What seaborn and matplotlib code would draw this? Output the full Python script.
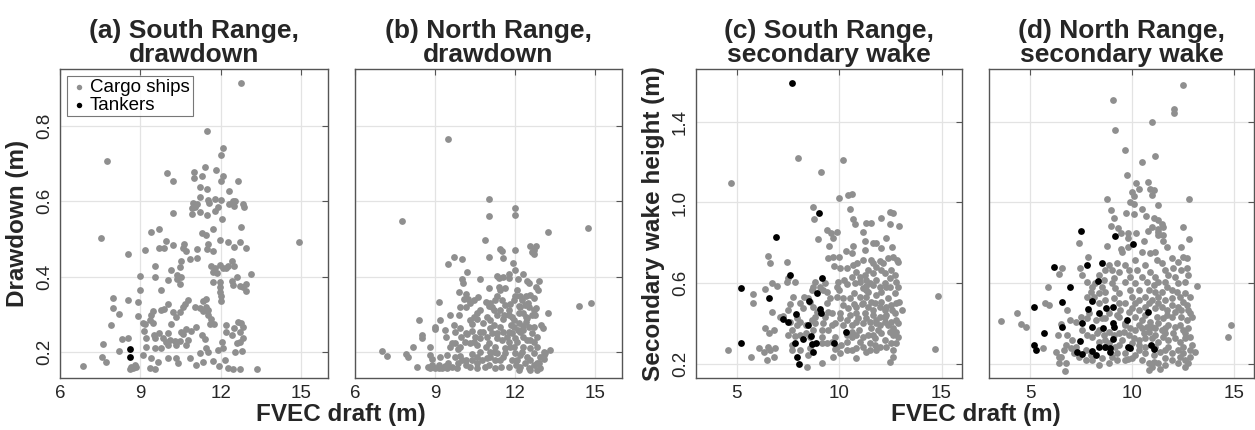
import matplotlib
matplotlib.use('Agg')
import matplotlib.pyplot as plt
import seaborn as sns
import pandas as pd

# ---------------- data (FVEC draft [m], height [m]) ----------------
a_cargo = [(12.74,0.916),(11.5,0.786),(7.74,0.707),(12.08,0.743),(12.0,0.723),(11.41,0.692),(11.83,0.684),(10.01,0.676),(11.01,0.679),(11.31,0.668),(11.01,0.662),(12.1,0.667),(12.0,0.653),(10.23,0.653),(12.64,0.655),(11.21,0.637),(11.49,0.633),(12.3,0.628),(11.21,0.611),(11.53,0.604),(11.78,0.607),(11.99,0.604),(11.56,0.596),(10.96,0.596),(11.11,0.592),(10.91,0.583),(11.05,0.585),(10.91,0.567),(11.23,0.572),(11.49,0.563),(11.78,0.573),(11.9,0.584),(12.05,0.552),(12.31,0.594),(12.44,0.601),(12.53,0.601),(12.51,0.588),(12.83,0.594),(12.85,0.585),(10.23,0.570),
(7.53,0.502),(9.4,0.518),(9.69,0.526),(8.53,0.46),(9.16,0.47),(9.95,0.495),(9.71,0.476),(9.88,0.476),(10.23,0.483),(10.64,0.487),(10.59,0.476),(10.71,0.469),(11.11,0.473),(11.28,0.516),(11.46,0.511),(11.71,0.527),(11.53,0.486),(11.5,0.472),(11.71,0.468),(11.96,0.498),(12.28,0.493),(12.5,0.479),(12.71,0.493),(12.74,0.531),(12.93,0.476),(14.9,0.493),(10.53,0.442),(10.84,0.446),(11.11,0.449),(10.13,0.416),(10.46,0.424),(10.35,0.404),(10.35,0.394),(10.53,0.4),(10.46,0.38),(10.04,0.391),(9.55,0.4),(9.55,0.429),(9.0,0.402),(9.0,0.364),(9.78,0.364),(11.65,0.429),(11.78,0.422),(11.96,0.431),(12.09,0.422),(12.21,0.422),(12.28,0.427),(12.5,0.429),(11.71,0.413),(11.84,0.409),(12.4,0.44),(11.96,0.385),(11.71,0.385),(11.96,0.373),(11.96,0.36),(12.0,0.347),(12.0,0.335),(12.4,0.388),(12.46,0.378),(12.59,0.4),(12.71,0.376),(12.93,0.38),(13.11,0.407),(12.84,0.371),(12.93,0.362),
(7.99,0.342),(7.99,0.316),(8.21,0.3),(7.9,0.271),(8.53,0.338),(8.9,0.331),(8.9,0.295),(9.09,0.276),(9.19,0.273),(9.15,0.255),(9.34,0.284),(9.4,0.298),(9.46,0.308),(9.78,0.311),(9.88,0.313),(10.03,0.327),(10.21,0.305),(10.34,0.293),(10.46,0.305),(10.59,0.318),(10.78,0.338),(10.66,0.326),(11.03,0.32),(11.21,0.316),(11.34,0.335),(11.44,0.34),(11.46,0.32),(11.53,0.311),(11.54,0.298),(11.59,0.273),(11.75,0.273),(11.65,0.286),(11.34,0.308),(10.13,0.273),(9.46,0.276),(9.5,0.244),(9.21,0.236),(9.53,0.236),(9.71,0.251),(10.03,0.249),(10.5,0.253),(10.59,0.246),(10.71,0.26),(10.9,0.255),(11.09,0.267),(11.28,0.244),(11.4,0.233),(10.78,0.231),(10.46,0.228),(10.28,0.228),(10.09,0.231),(9.96,0.225),(9.84,0.237),(12.19,0.271),(12.19,0.253),(12.4,0.244),(12.5,0.262),(12.65,0.278),(12.75,0.276),(12.81,0.265),(12.71,0.252),(12.61,0.222),(12.81,0.236),(12.71,0.227),(12.53,0.2),(12.78,0.202),(12.03,0.227),(12.09,0.209),(11.9,0.204),(11.46,0.209),(11.21,0.196),(11.53,0.198),(10.69,0.218),(10.34,0.218),(10.03,0.218),(9.78,0.211),(9.53,0.209),(9.21,0.213),(7.61,0.22),(8.31,0.233),(8.53,0.237),(8.21,0.203),(7.71,0.172),(7.56,0.187),(9.09,0.191),(9.4,0.182),(9.65,0.173),(9.53,0.154),(9.34,0.156),(10.03,0.184),(10.34,0.182),(10.4,0.169),(10.84,0.182),(11.09,0.164),(11.34,0.173),(11.71,0.175),(11.93,0.163),(12.15,0.178),(12.28,0.156),(12.46,0.154),(12.71,0.154),(13.34,0.154),(8.65,0.16),(8.71,0.156),(8.78,0.164),(8.84,0.16),(8.61,0.154),(6.87,0.162)]
a_tankers = [(8.61,0.208),(8.61,0.186)]

b_cargo = [(9.5,0.765),(7.75,0.547),(11.0,0.607),(12.0,0.582),(12.0,0.564),(11.0,0.562),(13.21,0.518),(14.73,0.529),(14.38,0.322),(14.85,0.329),(10.87,0.498),(7.0,0.202),(7.18,0.188),(8.31,0.158),
(11.0,0.453),(11.44,0.473),(11.5,0.467),(11.56,0.449),(12.0,0.471),(11.91,0.437),(12.54,0.48),(12.69,0.471),(12.78,0.48),(12.63,0.464),(12.71,0.46),(9.69,0.453),(9.5,0.434),(10.0,0.446),(10.21,0.413),(10.69,0.393),(10.0,0.393),(10.06,0.382),(9.91,0.36),(10.16,0.354),(10.1,0.34),(10.6,0.345),(11.0,0.369),(11.31,0.402),(11.38,0.396),(11.54,0.398),(11.75,0.407),(11.75,0.396),(12.0,0.416),(12.09,0.393),(12.31,0.407),(12.44,0.389),(12.53,0.384),(12.91,0.387),(12.79,0.372),(12.84,0.364),(12.54,0.351),(12.4,0.347),(12.71,0.342),(11.38,0.372),(11.44,0.364),(11.31,0.348),(11.25,0.338),(10.91,0.333),(11.0,0.322),(11.13,0.32),(12.06,0.364),(12.0,0.347),(11.94,0.338),(11.81,0.326),(12.13,0.322),(12.38,0.324),(12.5,0.32),(12.79,0.316),(12.75,0.298),(13.23,0.302),(12.41,0.292),(12.4,0.28),(12.31,0.268),(12.5,0.267),(12.98,0.271),(13.04,0.264),(11.59,0.298),(11.75,0.298),(11.56,0.286),(11.44,0.267),(11.31,0.249),(11.06,0.284),(10.94,0.292),(10.69,0.311),(10.56,0.302),(10.56,0.286),(10.38,0.274),(10.29,0.284),(10.16,0.32),(9.94,0.318),(9.89,0.298),(9.71,0.271),(9.56,0.298),(9.13,0.333),(9.19,0.284),(9.0,0.267),(8.41,0.283),(8.5,0.244),(8.19,0.213),(7.91,0.194),(8.0,0.185),(8.81,0.212),(8.81,0.191),(8.88,0.18),(8.88,0.164),(8.81,0.157),(9.0,0.156),(9.13,0.164),(9.19,0.187),(9.25,0.156),(9.38,0.162),(9.5,0.169),(9.44,0.191),(9.39,0.238),(9.56,0.213),(9.63,0.222),(9.75,0.224),(9.84,0.206),(9.75,0.187),(10.0,0.178),(9.84,0.169),(10.16,0.178),(10.16,0.164),(9.96,0.24),(10.21,0.247),(10.31,0.222),(10.44,0.227),(10.56,0.218),(10.69,0.236),(10.81,0.253),(10.69,0.2),(10.38,0.194),(10.56,0.187),(10.91,0.213),(11.0,0.222),(11.06,0.2),(10.94,0.182),(11.0,0.164),(10.88,0.16),(11.25,0.213),(11.31,0.196),(11.25,0.178),(11.25,0.157),(11.46,0.16),(11.56,0.187),(11.63,0.209),(11.75,0.227),(11.69,0.24),(11.88,0.249),(12.0,0.236),(11.94,0.213),(12.0,0.196),(12.06,0.178),(12.04,0.164),(12.13,0.151),(12.31,0.213),(12.25,0.2),(12.44,0.231),(12.56,0.209),(12.69,0.196),(12.56,0.178),(12.69,0.164),(12.88,0.169),(12.5,0.156),(12.81,0.151),(13.06,0.2),(13.09,0.191),(11.44,0.311),(11.06,0.262),(11.19,0.271),(10.81,0.276),(9.94,0.262),(9.75,0.253),(9.38,0.258),(10.38,0.256),(10.46,0.293),(10.31,0.329),(10.44,0.338),(12.19,0.347),(12.13,0.302),(11.94,0.284),(12.16,0.276),(11.84,0.271),(11.75,0.253),(12.19,0.253),(12.63,0.249),(12.71,0.267),(12.81,0.238),(12.69,0.227),(13.13,0.196),(13.31,0.205),(12.81,0.169),(13.06,0.18),(8.75,0.16),(9.13,0.156),
(10.25,0.34),(11.63,0.369),(12.48,0.329),(12.25,0.338),(9.94,0.188),(10.16,0.251),(9.0,0.26),(8.5,0.237),(11.06,0.329),(11.19,0.311),(11.31,0.298),(11.5,0.338),(11.63,0.324),(11.75,0.311),(11.88,0.293),(12.19,0.32),(12.31,0.302),(12.44,0.289),(12.63,0.298),(12.69,0.311),(12.31,0.24),(12.06,0.227),(11.81,0.213),(11.63,0.196),(11.44,0.178),(11.19,0.2),(11.06,0.187),(10.75,0.178),(10.56,0.169),(10.38,0.178),(10.31,0.16),(10.56,0.156),(9.63,0.16),(9.81,0.156),(9.44,0.156),(9.94,0.213),(10.13,0.227),(10.5,0.24),(10.69,0.253),(10.94,0.24),(11.13,0.249),(11.31,0.236),(11.5,0.231),(11.56,0.253),(11.94,0.267),(12.09,0.258),(12.31,0.258),(12.56,0.231),(12.81,0.213),(12.94,0.187),(12.19,0.191),(12.44,0.187),(12.38,0.169),(12.19,0.16),(11.88,0.178),(11.75,0.16),(12.56,0.151),(12.94,0.156)]
b_tankers = []

c_cargo = [(7.97,1.222),(10.19,1.209),(9.09,1.151),(4.72,1.094),(9.98,1.023),(10.44,1.036),(10.6,1.04),(8.7,0.979),(8.78,0.916),(10.52,0.967),(10.68,0.916),(10.76,0.893),(11.33,0.9),(11.53,0.9),(12.06,0.921),(12.47,0.954),(12.63,0.946),(12.47,0.893),(12.92,0.883),(9.38,0.863),(9.59,0.85),(9.87,0.855),(9.71,0.822),(9.51,0.784),(8.98,0.817),(11.17,0.855),(11.28,0.811),(11.66,0.801),(11.82,0.801),(12.27,0.826),(12.6,0.781),(12.06,0.773),(10.68,0.784),(10.31,0.761),(10.6,0.748),(9.98,0.732),(9.46,0.723),(9.71,0.728),(9.76,0.687),(10.03,0.674),(10.36,0.674),(10.68,0.691),(10.88,0.702),(11.14,0.715),(11.25,0.765),(11.53,0.715),(11.66,0.699),(11.98,0.712),(12.14,0.699),(12.39,0.723),(12.63,0.732),(12.87,0.707),(11.82,0.682),(12.06,0.666),(12.22,0.653),(12.55,0.666),(12.71,0.641),(11.66,0.649),(11.41,0.666),(11.25,0.641),(11.01,0.633),(10.84,0.658),(10.6,0.633),(10.23,0.616),(9.95,0.608),(10.36,0.597),(10.76,0.6),(11.01,0.608),(11.33,0.616),(11.49,0.603),(11.66,0.592),(11.33,0.587),(11.17,0.575),(11.98,0.584),(12.22,0.603),(12.47,0.625),(12.79,0.608),(12.47,0.584),(12.87,0.584),(12.06,0.559),(11.79,0.542),(11.41,0.559),(11.33,0.534),(11.01,0.534),(10.71,0.551),(10.52,0.526),(10.19,0.526),(9.9,0.534),(10.0,0.567),(10.19,0.493),(10.71,0.498),(11.09,0.498),(11.41,0.485),(11.74,0.501),(11.98,0.485),(12.31,0.485),(12.55,0.493),(12.79,0.501),(12.92,0.509),(12.6,0.468),(12.22,0.468),(12.31,0.444),(11.98,0.435),(11.66,0.444),(11.25,0.452),(10.84,0.452),(10.52,0.444),(10.03,0.452),(10.03,0.427),(9.79,0.402),(10.19,0.394),(10.6,0.394),(10.84,0.411),(11.17,0.402),(11.49,0.411),(11.79,0.402),(12.22,0.411),(12.55,0.411),(12.87,0.402),(12.63,0.378),(12.79,0.361),(12.47,0.361),(12.63,0.345),(12.87,0.337),(12.55,0.304),(12.63,0.271),(12.47,0.213),(12.06,0.353),(11.9,0.37),(11.66,0.345),(11.41,0.345),(11.49,0.304),(11.49,0.271),(11.74,0.295),(11.98,0.287),(11.33,0.263),(11.17,0.287),(11.01,0.312),(10.84,0.345),(10.6,0.361),(10.36,0.345),(10.36,0.312),(10.11,0.295),(10.84,0.23),(10.6,0.271),(9.79,0.337),(9.87,0.287),(9.63,0.312),(9.38,0.304),(9.14,0.337),(9.14,0.37),(9.22,0.402),(9.3,0.435),(9.46,0.46),(9.63,0.452),(9.38,0.501),(9.55,0.526),(9.22,0.567),(9.06,0.584),(9.3,0.6),(9.38,0.559),(9.87,0.584),(8.81,0.608),(8.73,0.584),(8.65,0.567),(8.28,0.534),(8.49,0.526),(8.57,0.509),(8.08,0.501),(8.25,0.477),(8.73,0.485),(8.9,0.46),(8.81,0.435),(8.65,0.419),(8.81,0.402),(8.38,0.394),(8.08,0.411),(7.92,0.427),(7.92,0.394),(7.6,0.411),(7.68,0.37),(7.52,0.345),(7.84,0.34),(8.08,0.345),(8.38,0.353),(8.73,0.37),(8.57,0.337),(9.14,0.307),(8.57,0.279),(8.49,0.246),(8.08,0.271),(7.68,0.271),(8.41,0.188),(9.14,0.208),(9.79,0.274),(7.11,0.435),(7.27,0.439),(7.52,0.468),(7.6,0.498),(7.76,0.534),(7.47,0.608),(6.7,0.6),(6.98,0.587),(6.38,0.57),(6.7,0.457),(5.78,0.547),(5.78,0.501),(6.54,0.735),(6.62,0.699),(7.44,0.707),(7.52,0.625),(7.84,0.608),(6.38,0.378),(6.59,0.356),(6.79,0.37),(6.1,0.279),(6.3,0.263),(6.54,0.287),(6.62,0.271),(6.87,0.279),(6.46,0.221),(6.82,0.238),(5.68,0.238),(4.56,0.271),(7.68,0.295),(9.46,0.37),(9.63,0.394),(12.84,0.717),(13.09,0.47),(14.82,0.539),(14.66,0.276),
(11.33,0.567),(11.82,0.616),(12.31,0.584),(12.71,0.551),(12.39,0.526),(12.06,0.509),(11.57,0.509),(11.17,0.501),(10.84,0.485),(10.44,0.477),(11.66,0.468),(12.71,0.452),(12.22,0.435),(11.33,0.427),(10.93,0.427),(10.36,0.419),(11.82,0.419),(12.79,0.419),(12.39,0.394),(11.98,0.394),(11.57,0.378),(10.99,0.37),(10.6,0.337),(11.17,0.337),(11.74,0.329),(12.22,0.32),(12.79,0.304),(12.31,0.287),(11.82,0.271),(10.84,0.279),(10.36,0.271),(10.03,0.254),(9.71,0.238),(12.63,0.238)]
c_tankers = [(7.71,1.593),(9.03,0.949),(6.93,0.829),(5.19,0.575),(7.6,0.641),(9.14,0.625),(6.59,0.529),(8.9,0.554),(8.52,0.513),(7.87,0.45),(9.06,0.472),(9.09,0.452),(7.27,0.422),(7.48,0.409),(8.49,0.394),(8.6,0.342),(8.21,0.323),(7.84,0.307),(8.65,0.299),(8.88,0.307),(5.19,0.304),(10.32,0.361),(9.76,0.304),(8.73,0.259),(7.92,0.235),(8.02,0.202)]

d_cargo = [(12.48,1.579),(9.07,1.507),(12.08,1.461),(12.08,1.444),(10.96,1.398),(9.19,1.359),(9.68,1.26),(11.14,1.232),(10.5,1.199),(9.77,1.135),(10.78,1.1),(10.19,1.094),(10.36,1.069),(10.89,1.066),(11.09,1.063),(10.0,1.054),(11.0,1.035),(10.11,1.03),(8.78,1.016),(12.79,1.015),(9.89,1.002),(10.11,0.992),(11.3,0.988),(8.98,0.962),(10.49,0.969),(9.11,0.921),(9.69,0.946),(10.1,0.944),(10.67,0.934),(11.09,0.923),(11.27,0.911),(11.46,0.895),(11.5,0.881),(12.48,0.88),(10.99,0.877),(8.98,0.886),(9.3,0.873),(9.46,0.849),(9.82,0.85),(10.19,0.849),(10.78,0.857),(11.3,0.853),(11.3,0.837),(11.5,0.84),(12.81,0.821),(9.79,0.822),(10.57,0.811),(11.5,0.811),(8.78,0.783),(7.4,0.798),(11.7,0.778),(12.39,0.778),(9.48,0.77),(9.81,0.78),
(7.86,0.732),(9.51,0.756),(10.49,0.756),(10.89,0.748),(11.14,0.756),(11.95,0.723),(12.27,0.707),(12.52,0.732),(12.68,0.723),(12.69,0.674),(7.45,0.674),(7.56,0.641),(8.86,0.691),(8.7,0.666),(9.03,0.666),(9.35,0.658),(9.68,0.691),(9.84,0.666),(10.16,0.715),(10.65,0.691),(11.22,0.715),(11.46,0.699),(11.62,0.666),(11.79,0.641),(6.59,0.674),(6.43,0.646),(5.86,0.58),(5.73,0.505),(5.94,0.493),(4.35,0.455),(4.56,0.4),(4.81,0.383),(3.55,0.416),(6.51,0.4),(6.83,0.468),(6.95,0.419),(6.35,0.345),(6.83,0.345),(7.08,0.32),(6.67,0.271),(6.43,0.238),(6.72,0.169),(6.27,0.263),(5.62,0.279),(7.48,0.435),(7.53,0.37),(7.81,0.345),(7.97,0.559),(8.13,0.534),(7.81,0.534),(8.05,0.584),(8.38,0.551),(8.54,0.584),(8.7,0.559),(9.03,0.6),(9.19,0.575),(9.35,0.551),(9.68,0.608),(9.92,0.633),(10.16,0.6),(10.32,0.567),(10.73,0.608),(10.81,0.567),(11.06,0.592),(11.3,0.608),(11.62,0.608),(11.7,0.584),(11.95,0.567),(12.27,0.6),(12.6,0.608),(13.18,0.585),(12.6,0.551),(12.36,0.534),(11.95,0.526),(11.62,0.518),(11.3,0.534),(10.97,0.518),(10.65,0.534),(10.32,0.518),(10.0,0.534),(9.68,0.501),(9.35,0.501),(8.7,0.518),(8.38,0.501),(12.68,0.493),(12.27,0.485),(11.95,0.493),(11.7,0.468),(11.46,0.485),(11.14,0.477),(10.65,0.485),(10.32,0.468),(10.0,0.477),(9.43,0.468),(8.86,0.452),(8.7,0.427),(8.21,0.419),(7.81,0.427),(9.35,0.435),(10.16,0.435),(10.49,0.419),(10.89,0.411),(11.22,0.435),(11.54,0.427),(11.95,0.435),(12.4,0.435),(12.68,0.419),(12.76,0.378),(12.52,0.37),(12.11,0.386),(11.79,0.394),(11.46,0.37),(11.14,0.378),(10.81,0.361),(10.49,0.378),(10.16,0.37),(9.92,0.378),(9.59,0.361),(9.35,0.353),(8.62,0.345),(8.3,0.353),(8.05,0.337),(12.84,0.337),(12.6,0.328),(12.36,0.312),(12.11,0.328),(11.79,0.32),(11.54,0.337),(11.3,0.312),(10.97,0.328),(10.65,0.328),(10.32,0.32),(10.08,0.328),(9.51,0.32),(9.35,0.295),(8.38,0.312),(13.1,0.263),(12.84,0.271),(12.52,0.254),(12.27,0.271),(11.95,0.254),(11.62,0.271),(11.38,0.263),(11.06,0.246),(10.65,0.254),(10.32,0.271),(10.16,0.246),(9.68,0.254),(9.27,0.254),(9.03,0.238),(8.54,0.23),(7.97,0.246),(7.73,0.271),(12.6,0.221),(12.76,0.205),(12.36,0.238),(11.95,0.221),(11.62,0.23),(11.06,0.213),(10.81,0.205),(11.38,0.175),(10.97,0.188),(10.0,0.23),(7.16,0.254),(7.0,0.279),(6.75,0.295),(6.51,0.238),(10.0,0.304),(10.97,0.386),(11.3,0.402),(12.11,0.46),(12.4,0.468),(12.76,0.468),(12.92,0.435),(9.68,0.402),(8.7,0.32),(8.86,0.304),(7.89,0.452),(7.24,0.411),(14.84,0.396),(14.71,0.333),(9.8,0.226),
(11.3,0.87),(8.38,0.641),(9.27,0.699),(10.24,0.666),(10.89,0.658),(12.03,0.674),(12.4,0.666),(12.76,0.641),(12.11,0.633),(11.14,0.633),(10.49,0.633),(9.11,0.625),(8.62,0.616),(7.78,0.608),(8.19,0.6),(9.92,0.567),(11.14,0.559),(11.46,0.559),(12.19,0.559),(12.84,0.534),(9.11,0.526),(10.16,0.501),(10.81,0.501),(11.3,0.501),(12.52,0.509),(12.84,0.452),(11.7,0.444),(10.65,0.444),(9.84,0.46),(9.27,0.444),(8.54,0.427),(9.68,0.394),(10.32,0.394),(10.73,0.386),(11.62,0.378),(12.36,0.394),(12.6,0.353),(12.03,0.353),(11.62,0.353),(11.14,0.345),(10.57,0.353),(9.84,0.345),(9.11,0.345),(8.86,0.361),(8.38,0.37),(8.7,0.287),(9.19,0.287),(10.32,0.295),(10.65,0.287),(11.14,0.287),(11.79,0.287),(12.52,0.287),(12.92,0.295),(12.84,0.238),(12.27,0.205),(11.62,0.197),(11.3,0.205),(10.49,0.221),(9.68,0.221),(9.27,0.221),(8.86,0.205),(8.38,0.197),(8.05,0.221),(7.73,0.221),(7.4,0.238),(7.24,0.287),(6.75,0.205),(6.43,0.205),(12.6,0.188),(10.81,0.172)]
d_tankers = [(7.48,0.857),(9.19,0.832),(10.06,0.796),(6.19,0.679),(7.81,0.691),(8.51,0.699),(8.33,0.613),(6.95,0.584),(5.19,0.481),(6.59,0.509),(8.05,0.513),(7.84,0.472),(8.38,0.452),(8.73,0.477),(9.07,0.481),(10.8,0.458),(9.76,0.419),(7.53,0.402),(8.02,0.386),(8.57,0.378),(9.05,0.406),(9.14,0.386),(6.59,0.386),(5.7,0.353),(7.45,0.317),(9.07,0.323),(5.19,0.295),(5.29,0.271),(7.29,0.263),(7.56,0.251),(8.02,0.266),(8.21,0.246),(8.38,0.284),(8.67,0.284),(8.9,0.261),(8.94,0.279),(9.81,0.284),(9.89,0.279),(10.93,0.295),(11.06,0.276)]

titles = ["(a) South Range,\ndrawdown", "(b) North Range,\ndrawdown",
          "(c) South Range,\nsecondary wake", "(d) North Range,\nsecondary wake"]
xticks_dd = [6, 9, 12, 15]
yticks_dd = [0.2, 0.4, 0.6, 0.8]
xticks_sw = [5, 10, 15]
yticks_sw = [0.2, 0.6, 1.0, 1.4]

# ---------------- style ----------------
sns.set_theme(style='white')
plt.rcParams['font.family'] = ['Liberation Sans', 'DejaVu Sans']
TXT = '#262626'
GRAY = '#8f8f8f'

fig = plt.figure(figsize=(12.55, 4.3), dpi=100)
W, H = 1255.0, 430.0
bottom = 1 - 378 / H
height = 309 / H
lefts = [60, 355, 696, 989.3]
widths = [268, 267, 266, 265]
axes = [fig.add_axes([l / W, bottom, w / W, height]) for l, w in zip(lefts, widths)]

panels = [(a_cargo, a_tankers), (b_cargo, b_tankers), (c_cargo, c_tankers), (d_cargo, d_tankers)]

for i, (ax, (cargo, tank)) in enumerate(zip(axes, panels)):
    dfc = pd.DataFrame(cargo, columns=['draft', 'h'])
    sns.scatterplot(data=dfc, x='draft', y='h', color=GRAY, s=24, linewidth=0,
                    ax=ax, label='Cargo ships', zorder=3)
    if len(tank):
        dft = pd.DataFrame(tank, columns=['draft', 'h'])
        sns.scatterplot(data=dft, x='draft', y='h', color='black', s=24, linewidth=0,
                        ax=ax, label='Tankers', zorder=4)
    else:
        ax.scatter([], [], color='black', s=24, label='Tankers')
    if i < 2:
        ax.set_xlim(6, 16); ax.set_ylim(0.13, 0.952)
        ax.set_xticks(xticks_dd); ax.set_yticks(yticks_dd)
        ax.set_yticklabels([f"{v:.1f}" for v in yticks_dd])
    else:
        ax.set_xlim(3, 16); ax.set_ylim(0.132, 1.66)
        ax.set_xticks(xticks_sw); ax.set_yticks(yticks_sw)
        ax.set_yticklabels([f"{v:.1f}" for v in yticks_sw])
    ax.set_xticklabels([str(v) for v in ax.get_xticks().astype(int)])
    ax.grid(True, color='#e3e3e3', linewidth=0.9)
    ax.set_axisbelow(True)
    for sp in ax.spines.values():
        sp.set_color('#555555'); sp.set_linewidth(1.0); sp.set_visible(True)
    ax.tick_params(direction='in', top=True, right=True, length=4, width=0.8,
                   color='#555555', labelsize=13.5, labelcolor=TXT, pad=5)
    ax.tick_params(axis='y', labelrotation=90)
    for lab in ax.get_yticklabels():
        lab.set_va('center')
    ax.set_xlabel('')
    ax.set_title(titles[i], fontsize=19, fontweight='bold', color=TXT, pad=5,
                 linespacing=1.0)
    if i in (1, 3):
        ax.set_yticklabels([])
        ax.set_ylabel('')
    if ax.get_legend() is not None:
        ax.get_legend().remove()

axes[0].set_ylabel('Drawdown (m)', fontsize=17.5, fontweight='bold', color=TXT, labelpad=5)
axes[2].set_ylabel('Secondary wake height (m)', fontsize=17.5, fontweight='bold', color=TXT, labelpad=5)

leg = axes[0].legend(loc='upper left', fontsize=13.5, frameon=True, fancybox=False,
                     edgecolor='#555555', borderpad=0.15, labelspacing=0.05,
                     handletextpad=0.1, handlelength=1.0, borderaxespad=0.35,
                     markerscale=0.8)
leg.get_frame().set_linewidth(0.8)
for t in leg.get_texts():
    t.set_color('black')

fig.text(341 / W, 1 - 415 / H, 'FVEC draft (m)', ha='center', va='center',
         fontsize=17.5, fontweight='bold', color=TXT)
fig.text(976 / W, 1 - 415 / H, 'FVEC draft (m)', ha='center', va='center',
         fontsize=17.5, fontweight='bold', color=TXT)

fig.savefig('out.png', dpi=100)
